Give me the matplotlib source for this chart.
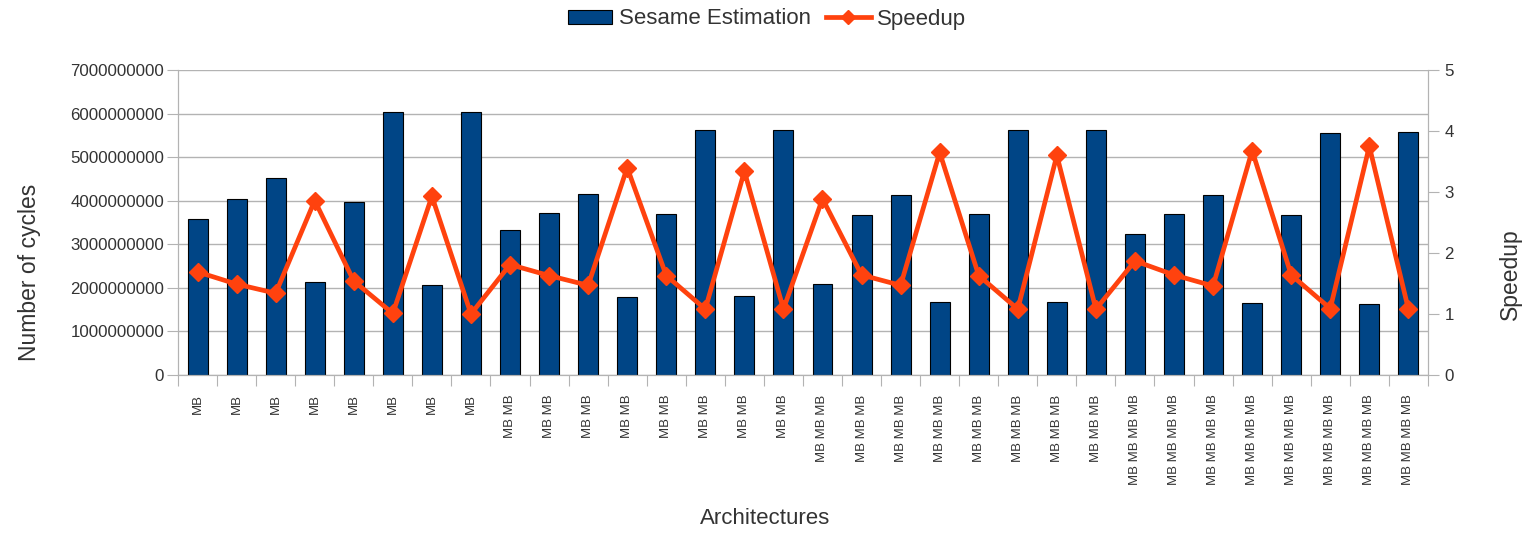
import matplotlib
matplotlib.use("Agg")
import matplotlib.pyplot as plt
import numpy as np

plt.rcParams['font.family'] = ['Liberation Sans', 'DejaVu Sans']

architectures = (["MB"] * 8 + ["MB MB"] * 8 + ["MB MB MB"] * 8 + ["MB MB MB MB"] * 8)

sesame_estimation = [
    3.58e9, 4.03e9, 4.53e9, 2.13e9, 3.96e9, 6.03e9, 2.07e9, 6.04e9,
    3.33e9, 3.71e9, 4.15e9, 1.79e9, 3.70e9, 5.62e9, 1.81e9, 5.63e9,
    2.09e9, 3.68e9, 4.12e9, 1.67e9, 3.70e9, 5.62e9, 1.68e9, 5.63e9,
    3.24e9, 3.69e9, 4.12e9, 1.65e9, 3.68e9, 5.55e9, 1.62e9, 5.57e9,
]

speedup = [
    1.69, 1.49, 1.34, 2.86, 1.54, 1.01, 2.93, 1.00,
    1.81, 1.63, 1.47, 3.40, 1.63, 1.08, 3.34, 1.08,
    2.89, 1.64, 1.47, 3.65, 1.63, 1.08, 3.60, 1.08,
    1.87, 1.64, 1.46, 3.68, 1.64, 1.09, 3.75, 1.08,
]

left_ticks = np.arange(0, 7000000001, 1000000000)
right_ticks = [0, 1, 2, 3, 4, 5]

bar_color = "#004586"
line_color = "#ff420e"
grid_color = "#b3b3b3"
text_color = "#333333"

W, H = 1528, 533
fig = plt.figure(figsize=(W / 100, H / 100), dpi=100)
ax = fig.add_axes([0.1165, 0.2964, 0.818, 0.5723])
ax2 = ax.twinx()

x = np.arange(len(architectures))
bars = ax.bar(x, sesame_estimation, width=0.51, color=bar_color,
              edgecolor="black", linewidth=0.8, zorder=2, label="Sesame Estimation")
ax.set_xlim(-0.5, len(architectures) - 0.5)
ax.set_ylim(0, 7e9)
ax.set_yticks(left_ticks)
ax.set_yticklabels([str(int(v)) for v in left_ticks])
ax.yaxis.grid(True, color=grid_color, linewidth=1.0, zorder=0)
ax.set_axisbelow(True)

# category boundary ticks on the x axis
ax.set_xticks(np.arange(-0.5, len(architectures), 1.0))
ax.set_xticklabels([])
ax.tick_params(axis='x', which='major', length=8, color=grid_color, direction='out')
ax.set_xticks(x, minor=True)
ax.set_xticklabels(architectures, minor=True, rotation=90, fontsize=9.5,
                   color=text_color, va='top', ha='center')
ax.tick_params(axis='x', which='minor', length=0, pad=14)
ax.tick_params(axis='y', length=8, color=grid_color, labelsize=12.2,
               labelcolor=text_color, pad=2)

for side in ['left', 'bottom', 'right', 'top']:
    ax.spines[side].set_color(grid_color)
    ax2.spines[side].set_color(grid_color)
ax.spines['top'].set_visible(False)
ax2.spines['top'].set_visible(False)

line, = ax2.plot(x, speedup, color=line_color, linewidth=3.4, marker='D',
                 markersize=9, zorder=3, label="Speedup")
ax2.set_ylim(0, 5)
ax2.set_yticks(right_ticks)
ax2.tick_params(axis='y', length=8, color=grid_color, labelsize=12.2,
                labelcolor=text_color, pad=4)

# axis titles
fig.text(30 / W, 1 - 272 / H, "Number of cycles", rotation=90, fontsize=16.5,
         color=text_color, ha='center', va='center')
fig.text(1510 / W, 1 - 274 / H, "Speedup", rotation=90, fontsize=16.5,
         color=text_color, ha='center', va='center')
fig.text(765 / W, 1 - 518 / H, "Architectures", fontsize=16,
         color=text_color, ha='center', va='center')

fig.legend([bars, line], ["Sesame Estimation", "Speedup"], loc='center',
           bbox_to_anchor=(767 / W, 1 - 19 / H), ncol=2, frameon=False, fontsize=16,
           labelcolor=text_color, handlelength=2.0, handleheight=0.6,
           columnspacing=0.7, handletextpad=0.3, markerscale=0.8)

fig.savefig("out.png", dpi=100)
